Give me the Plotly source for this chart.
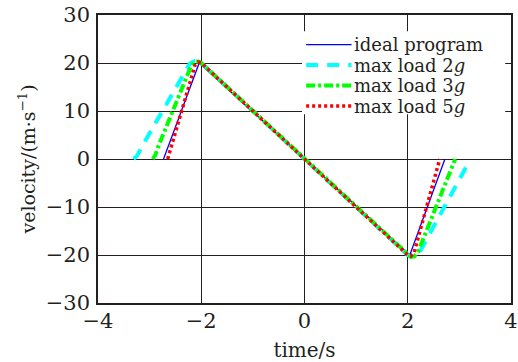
import plotly.graph_objects as go

# ideal program
t_ideal = [-2.73, -2.04, 2.04, 2.72]
v_ideal = [0, 20, -20, 0]
# max load 2g
t_2g = [-3.31, -3.24, -3.17, -2.32, -2.22, -2.13, -2.06, -2.0, 2.0, 2.06, 2.13, 2.22, 3.15]
v_2g = [0, 0.7, 2.2, 18.3, 19.9, 20.4, 20.3, 20.0, -20.0, -20.3, -20.4, -19.6, -1.3]
# max load 3g
t_3g = [-2.94, -2.89, -2.84, -2.2, -2.13, -2.06, -2.0, 2.0, 2.06, 2.13, 2.2, 2.92]
v_3g = [0, 0.8, 2.4, 19.3, 20.3, 20.3, 20.0, -20.0, -20.4, -20.3, -19.3, 0]
# max load 5g
t_5g = [-2.65, -2.12, -2.06, -2.0, 2.0, 2.06, 2.12, 2.62]
v_5g = [0, 19.6, 20.2, 20.0, -20.0, -20.2, -19.6, 0]

x_ticks = [-4, -2, 0, 2, 4]
y_ticks = [-30, -20, -10, 0, 10, 20, 30]

series_names = ["ideal program", "max load 2<i>g</i>", "max load 3<i>g</i>", "max load 5<i>g</i>"]
series_colors = ["#0000ff", "#00ffff", "#00ff00", "#ff0000"]
series_widths = [1.3, 4, 4, 3.5]
series_dash = ["solid", "12px,9px", "9px,3px,3px,3px", "3px,3px"]
series_t = [t_ideal, t_2g, t_3g, t_5g]
series_v = [v_ideal, v_2g, v_3g, v_5g]

FONT = "DejaVu Serif"
INK = "#231f20"
FS = 21
LFS = 18

fig = go.Figure()
for t, v, nm, c, w, d in zip(series_t, series_v, series_names, series_colors, series_widths, series_dash):
    fig.add_trace(go.Scatter(x=t, y=v, mode="lines", name=nm, showlegend=False,
                             line=dict(color=c, width=w, dash=d)))

axis_common = dict(showline=True, linecolor=INK, linewidth=1.5, mirror="ticks",
                   showgrid=True, gridcolor=INK, gridwidth=1, zeroline=False,
                   ticks="inside", ticklen=5, tickcolor=INK, automargin=False,
                   ticklabeloverflow="allow",
                   tickfont=dict(family=FONT, size=FS, color=INK))

# legend drawn inside the plot (top right), white box over grid
leg_x0, leg_x1 = 0.494, 0.986
leg_y0, leg_y1 = 0.655, 0.944
row_y = [0.897, 0.826, 0.755, 0.684]
shapes = [dict(type="rect", xref="paper", yref="paper", x0=leg_x0, x1=leg_x1, y0=leg_y0, y1=leg_y1,
               fillcolor="white", line=dict(width=0), layer="above")]
annotations = []
for y, nm, c, w, d in zip(row_y, series_names, series_colors, series_widths, series_dash):
    shapes.append(dict(type="line", xref="paper", yref="paper", x0=0.504, x1=0.614, y0=y, y1=y,
                       line=dict(color=c, width=w, dash=d), layer="above"))
    annotations.append(dict(xref="paper", yref="paper", x=0.617, y=y, xanchor="left", yanchor="middle",
                            text=nm, showarrow=False, borderpad=0,
                            font=dict(family=FONT, size=LFS, color=INK)))

fig.update_layout(
    width=518, height=362,
    margin=dict(l=98, r=7, t=15, b=59, autoexpand=False),
    paper_bgcolor="white", plot_bgcolor="white",
    font=dict(family=FONT, color=INK),
    xaxis=dict(range=[-4, 4], tickvals=x_ticks, ticklabelstandoff=-2,
               title=dict(text="time/s", font=dict(family=FONT, size=20), standoff=13),
               **axis_common),
    yaxis=dict(range=[-30, 30], tickvals=y_ticks, ticklabelstandoff=2,
               title=dict(text="velocity/(m·s<sup>−1</sup>)", font=dict(family=FONT, size=19), standoff=5),
               **axis_common),
    shapes=shapes,
    annotations=annotations,
    showlegend=False,
)

fig.write_html("out.html")
